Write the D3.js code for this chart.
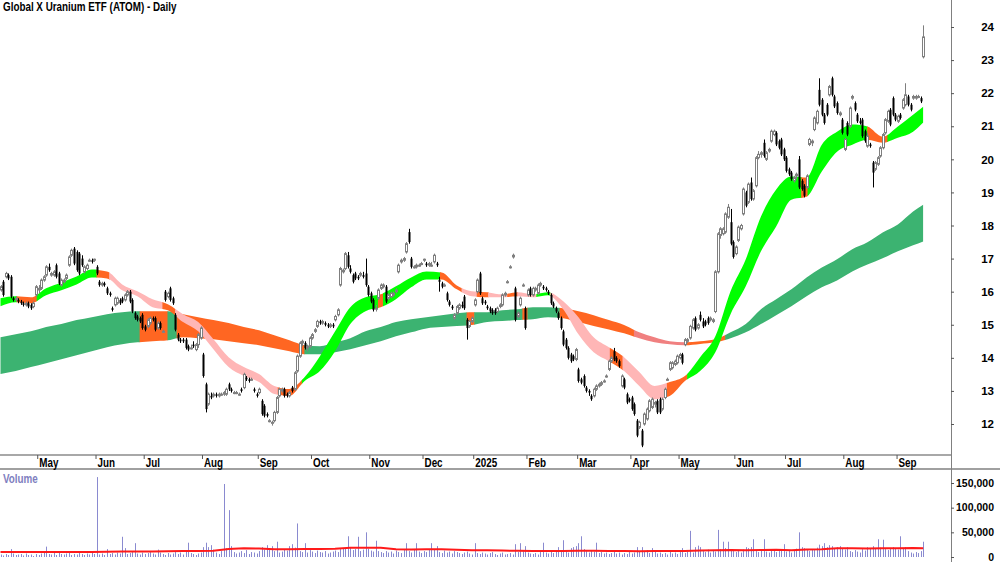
<!DOCTYPE html>
<html>
<head>
<meta charset="utf-8">
<script src="https://cdnjs.cloudflare.com/ajax/libs/d3/7.8.5/d3.min.js"></script>
<style>
  body { margin: 0; background: #fff; }
  svg { display: block; }
  text { font-family: "Liberation Sans", Arial, sans-serif; font-weight: bold; }
</style>
</head>
<body>
<div id="chart"></div>
<script>
// ── Data ──────────────────────────────────────────────────────────────────────
const TITLE = "Global X Uranium ETF (ATOM) - Daily";

// daily bars [open, high, low, close], Apr 2024 .. Sep 2025
const ohlc = [
  [16.05,16.2,16.0,16.15],[16.3,16.35,15.85,15.9],[16.45,16.6,16.4,16.55],[16.5,16.55,16.35,16.4],[16.45,16.5,15.8,15.85],
  [15.8,15.85,15.7,15.75],[15.75,15.85,15.7,15.8],[15.75,15.8,15.65,15.7],[15.7,15.75,15.6,15.65],[15.65,15.7,15.55,15.6],
  [15.6,15.7,15.55,15.65],[15.65,15.7,15.5,15.55],[15.6,15.65,15.45,15.5],[15.55,15.7,15.5,15.65],[15.9,16.2,15.85,16.15],
  [16.05,16.2,15.95,16.1],[16.1,16.4,16.05,16.35],[16.35,16.5,16.3,16.45],[16.5,16.8,16.45,16.75],[16.75,16.85,16.6,16.65],
  [16.5,16.6,16.45,16.55],[16.5,16.65,16.45,16.6],[16.8,16.85,16.4,16.45],[16.55,16.6,16.2,16.25],[16.2,16.4,16.15,16.35],
  [16.3,16.4,16.25,16.35],[16.4,16.55,16.35,16.5],[16.8,17.1,16.75,17.05],[17.1,17.3,17.05,17.25],[17.3,17.35,16.8,16.85],
  [17.2,17.25,16.6,16.65],[17.15,17.2,16.5,16.55],[17.0,17.1,16.75,16.8],[16.6,16.8,16.55,16.75],[16.7,16.85,16.65,16.8],
  [16.95,17.0,16.9,16.95],[16.95,17.0,16.85,16.9],[16.95,17.0,16.9,16.98],[16.75,16.8,16.5,16.55],[16.3,16.35,16.15,16.2],
  [16.2,16.3,16.15,16.25],[16.25,16.3,16.15,16.2],[16.1,16.15,15.9,15.95],[15.95,16.0,15.85,15.9],[15.5,15.55,15.4,15.45],
  [15.6,15.85,15.55,15.8],[15.65,15.85,15.6,15.8],[15.75,15.8,15.6,15.65],[15.8,15.85,15.65,15.7],[15.75,15.95,15.7,15.9],
  [15.9,16.05,15.85,16.0],[16.0,16.05,15.65,15.7],[15.75,15.8,15.35,15.4],[15.35,15.4,15.15,15.2],[15.25,15.3,15.1,15.15],
  [15.2,15.25,15.05,15.1],[15.3,15.35,14.85,14.9],[14.95,15.0,14.8,14.85],[14.95,15.2,14.9,15.15],[15.05,15.25,15.0,15.2],
  [15.2,15.25,15.1,15.15],[15.2,15.25,14.8,14.85],[14.9,15.1,14.85,15.05],[15.05,15.1,14.85,14.9],[14.8,14.85,14.75,14.8],
  [16.0,16.05,15.7,15.75],[15.85,16.0,15.8,15.95],[16.1,16.15,15.7,15.75],[15.8,15.85,15.6,15.65],[15.3,15.35,14.8,14.85],
  [14.7,14.75,14.5,14.55],[14.55,14.6,14.45,14.5],[14.55,14.6,14.45,14.5],[14.55,14.6,14.25,14.3],[14.35,14.4,14.2,14.25],
  [14.3,14.4,14.25,14.3],[14.4,14.5,14.3,14.35],[14.25,14.45,14.2,14.4],[14.4,14.75,14.3,14.7],[14.6,14.95,14.55,14.9],
  [14.1,14.15,13.4,13.45],[13.2,13.25,12.35,12.45],[12.6,12.95,12.55,12.9],[12.85,12.95,12.75,12.8],[12.85,12.95,12.8,12.9],
  [12.9,12.95,12.8,12.85],[12.85,12.95,12.8,12.9],[12.9,12.95,12.85,12.9],[12.9,13.0,12.85,12.95],[12.9,13.1,12.85,13.05],
  [13.2,13.25,13.0,13.05],[13.05,13.1,12.95,13.0],[12.95,13.0,12.9,12.95],[12.95,13.0,12.9,12.95],[12.9,12.95,12.85,12.9],
  [13.05,13.1,12.95,13.0],[13.1,13.55,13.05,13.5],[13.4,13.45,13.3,13.35],[13.35,13.4,13.25,13.3],[13.35,13.4,13.3,13.35],
  [13.05,13.1,12.95,13.0],[12.9,12.95,12.8,12.85],[12.95,13.1,12.9,13.05],[12.7,12.75,12.25,12.3],[12.55,12.6,12.2,12.25],
  [12.3,12.35,12.2,12.25],[12.1,12.15,12.05,12.1],[12.05,12.1,11.95,12.05],[12.1,12.4,12.05,12.35],[12.35,12.85,12.3,12.8],
  [12.85,13.1,12.8,13.05],[13.0,13.1,12.95,13.05],[13.05,13.1,12.8,12.85],[12.9,12.95,12.8,12.85],[12.85,13.0,12.8,12.95],
  [13.1,13.15,12.95,13.0],[13.05,13.6,13.0,13.55],[13.6,14.1,13.55,14.05],[14.05,14.5,14.0,14.45],[14.45,14.55,14.35,14.5],
  [14.45,14.5,14.25,14.3],[14.3,14.4,14.2,14.35],[14.35,14.65,14.3,14.6],[14.6,14.75,14.55,14.7],[14.8,14.9,14.75,14.85],
  [14.95,15.15,14.9,15.1],[15.1,15.15,15.0,15.05],[15.05,15.15,15.0,15.1],[15.05,15.1,14.95,15.0],[15.0,15.05,14.9,14.95],
  [14.95,15.05,14.9,15.0],[15.0,15.05,14.9,14.95],[15.15,15.3,15.1,15.25],[15.3,15.5,15.25,15.45],[16.2,16.75,16.15,16.7],
  [16.6,16.7,16.55,16.65],[16.7,17.2,16.65,17.15],[17.1,17.2,16.7,16.75],[16.7,16.8,16.55,16.6],[16.5,16.55,16.25,16.3],
  [16.55,16.6,16.35,16.4],[16.45,16.5,16.35,16.4],[16.5,16.6,16.45,16.55],[16.5,16.6,16.4,16.45],[16.55,17.0,16.15,16.2],
  [16.15,16.2,15.85,15.9],[15.95,16.0,15.65,15.7],[15.75,15.8,15.4,15.45],[15.5,15.6,15.4,15.5],[15.8,16.1,15.75,16.05],
  [16.1,16.25,16.05,16.2],[16.15,16.25,16.1,16.2],[16.15,16.2,15.65,15.7],[15.8,15.95,15.75,15.9],[15.85,16.0,15.8,15.95],
  [15.9,16.0,15.85,15.95],[16.0,16.1,15.95,16.05],[16.6,16.85,16.55,16.8],[16.9,17.0,16.85,16.95],[16.95,17.05,16.9,17.0],
  [17.2,17.5,17.15,17.45],[17.8,17.9,17.45,17.5],[17.0,17.05,16.7,16.75],[16.75,16.8,16.7,16.75],[16.75,16.85,16.7,16.8],
  [16.8,16.85,16.75,16.8],[16.85,16.9,16.8,16.85],[16.95,17.0,16.9,16.98],[16.85,16.9,16.75,16.8],[16.8,16.9,16.75,16.85],
  [16.8,16.9,16.75,16.8],[16.9,17.15,16.85,17.1],[16.85,16.9,16.75,16.8],[16.35,16.45,16.0,16.3],[16.25,16.3,16.1,16.15],
  [16.2,16.25,16.15,16.2],[15.95,16.0,15.7,15.75],[15.7,15.75,15.55,15.6],[15.55,15.6,15.45,15.5],[15.2,15.35,15.15,15.3],
  [15.35,15.6,15.3,15.55],[15.5,15.65,15.45,15.6],[15.6,15.7,15.5,15.55],[15.85,15.9,15.45,15.5],[15.15,15.2,14.55,14.9],
  [14.95,15.15,14.9,15.1],[15.1,15.25,15.05,15.2],[15.6,15.8,15.55,15.75],[16.0,16.4,15.95,16.35],[16.55,16.6,15.9,15.95],
  [15.8,15.85,15.6,15.65],[15.7,15.75,15.6,15.65],[15.55,15.6,15.45,15.5],[15.5,15.55,15.35,15.4],[15.45,15.5,15.3,15.35],
  [15.45,15.5,15.3,15.35],[15.4,15.55,15.35,15.5],[15.55,15.65,15.5,15.6],[15.6,15.95,15.55,15.9],[15.9,16.0,15.85,15.95],
  [16.3,16.35,16.25,16.3],[16.75,16.8,16.7,16.75],[17.05,17.15,17.0,17.1],[16.1,16.15,15.1,15.15],[15.25,15.4,15.2,15.35],
  [15.6,15.85,15.55,15.8],[16.2,16.25,16.15,16.2],[15.5,15.55,14.85,14.9],[15.9,16.1,15.85,16.05],[16.1,16.15,15.85,15.9],
  [15.9,16.15,15.85,16.1],[16.05,16.15,16.0,16.1],[15.95,16.25,15.9,16.2],[16.2,16.3,16.15,16.25],[16.15,16.2,16.05,16.1],
  [16.1,16.15,16.0,16.05],[16.0,16.05,15.9,15.95],[15.9,15.95,15.6,15.65],[15.65,15.7,15.5,15.55],[15.5,15.55,15.35,15.4],
  [15.35,15.4,15.15,15.2],[15.2,15.25,14.85,14.9],[14.8,14.85,14.35,14.4],[14.55,14.6,14.25,14.3],[14.3,14.35,13.95,14.0],
  [14.1,14.15,13.85,13.9],[14.05,14.1,13.9,13.95],[13.95,14.3,13.9,14.25],[13.65,13.7,13.25,13.3],[13.35,13.4,13.2,13.25],
  [13.45,13.5,13.1,13.15],[13.1,13.15,12.95,13.0],[13.0,13.05,12.85,12.95],[12.85,12.9,12.7,12.75],[12.85,13.1,12.8,13.05],
  [13.05,13.2,13.0,13.15],[13.15,13.25,13.1,13.2],[13.2,13.3,13.15,13.25],[13.3,13.35,13.25,13.3],[13.45,13.5,13.4,13.45],
  [13.65,13.95,13.6,13.9],[13.9,14.05,13.85,14.0],[14.2,14.3,13.9,13.95],[14.0,14.05,13.85,13.9],[13.9,13.95,13.7,13.75],
  [13.15,13.5,13.1,13.45],[13.35,13.4,13.05,13.1],[12.9,12.95,12.6,12.65],[12.75,12.8,12.65,12.7],[12.8,12.85,12.4,12.45],
  [12.6,12.65,12.25,12.3],[12.1,12.15,11.6,11.65],[11.9,12.1,11.85,12.05],[11.8,11.85,11.3,11.35],[12.0,12.35,11.95,12.3],
  [12.15,12.5,12.1,12.45],[12.4,12.75,12.35,12.7],[12.5,12.8,12.45,12.75],[12.6,12.7,12.5,12.65],[12.7,12.75,12.3,12.35],
  [12.75,12.8,12.3,12.35],[12.45,12.8,12.4,12.75],[12.8,13.1,12.75,13.05],[13.35,13.4,13.3,13.35],[13.65,13.9,13.6,13.85],
  [13.7,13.9,13.65,13.85],[13.8,13.95,13.75,13.9],[13.85,14.1,13.8,14.05],[14.0,14.15,13.95,14.1],[14.1,14.15,13.8,13.85],
  [14.4,14.6,14.35,14.55],[14.5,14.6,14.45,14.55],[14.6,15.0,14.55,14.95],[14.9,15.2,14.85,15.15],[15.2,15.25,14.8,14.85],
  [14.9,15.05,14.85,15.0],[15.3,15.4,15.1,15.15],[15.1,15.2,14.9,14.95],[15.1,15.15,14.95,15.0],[15.2,15.25,15.0,15.05],
  [15.15,15.25,15.1,15.2],[15.1,15.2,15.05,15.15],[15.4,16.65,15.35,16.6],[16.6,17.8,16.55,17.75],[17.7,17.95,17.6,17.9],
  [17.75,17.95,17.7,17.9],[17.8,18.4,17.75,18.35],[18.25,18.65,18.2,18.55],[18.1,18.5,17.4,17.45],[17.5,17.55,17.0,17.05],
  [17.15,17.4,17.1,17.35],[17.55,18.0,17.5,17.95],[17.9,18.05,17.85,18.0],[18.35,19.15,18.3,19.1],[19.0,19.05,18.55,18.6],
  [18.7,19.3,18.65,19.25],[19.3,19.45,18.75,18.8],[18.8,19.1,18.75,19.05],[19.2,20.1,19.15,20.05],[20.05,20.25,20.0,20.15],
  [20.15,20.25,20.05,20.2],[20.5,20.6,20.05,20.1],[20.0,20.25,19.95,20.2],[20.25,20.35,20.2,20.3],[20.55,20.9,20.5,20.85],
  [20.75,20.9,20.7,20.85],[20.8,20.85,20.4,20.45],[20.55,20.6,20.3,20.35],[20.6,20.65,20.1,20.15],[20.3,20.35,19.95,20.0],
  [20.05,20.1,19.6,19.65],[19.7,19.75,19.5,19.55],[19.6,19.65,19.35,19.4],[19.35,19.5,19.3,19.45],[19.5,19.6,19.4,19.55],
  [20.0,20.1,19.1,19.15],[19.35,19.4,19.05,19.1],[19.2,19.25,18.85,18.9],[19.15,19.55,19.1,19.5],[20.45,20.65,20.4,20.6],
  [20.5,20.6,20.4,20.55],[20.9,21.3,20.85,21.25],[21.1,21.5,21.05,21.45],[22.1,22.45,21.6,21.65],[21.8,21.85,21.3,21.35],
  [21.35,21.4,21.05,21.1],[21.65,21.7,21.3,21.35],[21.95,22.25,21.9,22.2],[22.45,22.5,21.9,21.95],[21.9,21.95,21.55,21.6],
  [21.7,21.75,21.35,21.4],[21.35,21.45,21.3,21.4],[21.2,21.25,20.75,20.8],[20.3,20.65,20.25,20.6],[21.1,21.15,20.7,20.75],
  [21.0,21.6,20.95,21.55],[21.85,21.95,21.8,21.9],[21.7,21.75,21.45,21.5],[21.35,21.4,21.1,21.15],[21.15,21.25,21.05,21.1],
  [21.2,21.25,20.65,20.7],[20.85,20.9,20.5,20.55],[20.4,20.8,20.35,20.7],[20.45,20.5,20.35,20.4],[19.9,19.95,19.15,19.6],
  [19.7,19.95,19.65,19.9],[19.85,20.1,19.8,20.05],[20.1,20.4,20.05,20.35],[20.35,20.8,20.3,20.75],[20.8,21.25,20.75,21.2],
  [21.15,21.5,21.1,21.45],[21.5,21.55,21.0,21.05],[21.85,21.9,21.3,21.35],[21.35,21.4,21.15,21.2],[21.15,21.35,21.1,21.3],
  [21.35,21.4,21.2,21.25],[21.55,21.85,21.5,21.8],[21.65,22.3,21.6,21.95],[21.9,21.95,21.6,21.65],[21.65,21.7,21.45,21.5],
  [21.85,21.95,21.8,21.9],[21.85,21.95,21.8,21.9],[21.9,21.95,21.85,21.9],[21.85,21.9,21.7,21.75],[23.1,24.05,23.05,23.7]
];

const volume = [
  5000,3000,6000,4000,16000,7000,4000,5000,6000,3000,
  7000,4000,5000,2000,6000,4000,7000,9000,21000,6000,
  5000,8000,4000,10000,6000,5000,7000,9000,4000,6000,
  5000,8000,6000,4000,7000,5000,9000,6000,162000,5000,
  7000,4000,16000,6000,8000,5000,9000,7000,41000,18000,
  6000,8000,10000,28000,7000,5000,9000,6000,8000,10000,
  7000,5000,15000,9000,6000,4000,8000,5000,7000,10000,
  6000,9000,5000,12000,29000,8000,6000,4000,7000,9000,
  20000,29000,20000,24000,15000,9000,6000,12000,148000,18000,
  95000,22000,10000,7000,9000,12000,8000,14000,6000,10000,
  9000,7000,12000,20000,15000,24000,18000,22000,12000,31000,
  9000,11000,16000,13000,22000,26000,19000,68000,12000,10000,
  28000,9000,14000,11000,8000,13000,10000,9000,12000,7000,
  9000,11000,13000,10000,16000,18000,17000,42000,19000,14000,
  16000,41000,12000,15000,50000,17000,13000,11000,33000,12000,
  10000,8000,12000,9000,11000,7000,13000,10000,8000,14000,
  28000,12000,9000,15000,28000,11000,8000,12000,10000,14000,
  28000,16000,22000,10000,8000,13000,9000,11000,7000,12000,
  10000,8000,6000,9000,11000,7000,5000,28000,8000,6000,
  9000,7000,5000,8000,10000,6000,4000,7000,9000,5000,
  6000,8000,5000,26000,10000,28000,12000,22000,9000,7000,
  6000,8000,5000,10000,29000,9000,7000,12000,8000,14000,
  20000,11000,34000,13000,9000,18000,20000,22000,28000,42000,
  16000,12000,9000,14000,11000,29000,8000,10000,7000,9000,
  6000,8000,11000,7000,9000,5000,8000,6000,10000,7000,
  9000,20000,12000,20000,10000,14000,8000,18000,11000,7000,
  9000,6000,8000,5000,14000,7000,9000,6000,10000,18000,
  8000,11000,53000,9000,20000,23000,20000,12000,10000,15000,
  9000,13000,11000,55000,16000,31000,18000,31000,14000,12000,
  10000,13000,9000,15000,20000,18000,20000,36000,12000,10000,
  14000,36000,11000,9000,13000,16000,10000,12000,15000,26000,
  11000,14000,9000,13000,17000,50000,20000,18000,15000,12000,
  16000,14000,19000,25000,22000,28000,20000,24000,22000,18000,
  20000,22000,18000,15000,20000,12000,10000,14000,11000,9000,
  16000,13000,20000,18000,22000,17000,36000,19000,35000,16000,
  14000,18000,20000,17000,15000,42000,18000,20000,12000,9000,
  7000,10000,8000,12000,31000
];

// bar index of the first session of each month
const monthIdx    = [15, 38, 57, 80, 102, 123, 146, 167, 187, 208, 228, 249, 268, 290, 310, 333, 354];
const monthLabels = ["May","Jun","Jul","Aug","Sep","Oct","Nov","Dec","2025","Feb","Mar","Apr","May","Jun","Jul","Aug","Sep"];
const priceTicks  = [12, 13, 14, 15, 16, 17, 18, 19, 20, 21, 22, 23, 24];
const volumeTicks = [0, 50000, 100000, 150000];

// ribbon edges and volume average, read at these bar indices
const sampleIdx = [0,6,12,18,24,30,36,42,48,54,60,66,72,78,84,90,96,102,108,114,120,126,132,138,144,150,
  156,162,168,174,180,186,192,198,204,210,216,222,228,234,240,246,252,258,264,270,276,282,288,294,300,306,
  312,318,324,330,336,342,348,354,360,364];
const shortTop = [15.80,15.86,15.83,16.10,16.28,16.46,16.67,16.61,16.22,16.01,15.77,15.62,15.32,15.08,14.56,14.02,
  13.72,13.51,13.15,13.06,13.42,14.05,14.80,15.53,15.83,15.92,16.16,16.43,16.61,16.58,16.19,16.01,15.98,15.92,
  15.98,15.92,15.98,15.71,15.23,14.62,14.32,14.02,13.57,13.15,13.27,13.45,14.02,14.65,16.01,16.98,18.27,19.09,
  19.48,19.45,20.44,20.83,21.05,20.99,20.68,20.99,21.35,21.59];
const shortBot = [15.56,15.68,15.65,15.89,16.04,16.22,16.43,16.40,16.04,15.86,15.53,15.44,15.08,14.80,14.26,13.72,
  13.45,13.27,12.91,12.85,13.30,13.60,14.20,15.02,15.41,15.53,15.77,16.13,16.37,16.37,16.07,15.86,15.83,15.83,
  15.86,15.83,15.89,15.47,14.71,14.17,13.90,13.60,13.15,12.75,12.85,13.30,13.60,14.17,15.32,16.16,17.22,17.97,
  18.78,18.87,19.63,20.23,20.44,20.59,20.50,20.65,20.83,21.11];
const longTop = [14.62,14.71,14.80,14.93,15.02,15.14,15.23,15.32,15.38,15.41,15.41,15.41,15.32,15.23,15.14,15.05,
  14.93,14.83,14.68,14.53,14.38,14.35,14.47,14.59,14.80,14.93,15.08,15.17,15.23,15.29,15.35,15.38,15.38,15.44,
  15.47,15.53,15.53,15.50,15.41,15.29,15.14,14.99,14.77,14.62,14.50,14.47,14.50,14.56,14.77,15.02,15.47,15.77,
  16.07,16.43,16.73,16.98,17.28,17.49,17.79,18.03,18.42,18.63];
const longBot = [13.51,13.60,13.72,13.84,13.96,14.08,14.20,14.32,14.41,14.47,14.50,14.53,14.62,14.59,14.56,14.50,
  14.44,14.38,14.29,14.20,14.11,14.11,14.17,14.26,14.38,14.50,14.65,14.77,14.89,14.93,14.96,14.99,15.08,15.11,
  15.14,15.17,15.23,15.20,15.08,14.96,14.86,14.74,14.59,14.47,14.41,14.38,14.42,14.47,14.59,14.77,15.02,15.29,
  15.56,15.86,16.13,16.34,16.61,16.82,17.01,17.22,17.40,17.52];
const volumeAvg = [10000,10000,10000,10000,10000,10000,10000,10500,11000,11000,11000,11500,12000,12000,12500,16000,
  17500,17000,15500,15500,16000,16000,16500,18500,19000,18500,15500,15000,15500,15500,14500,13500,13500,13000,
  12500,12000,12000,12000,12500,12500,12000,12000,11500,12000,12000,12000,13000,13500,14000,13500,14000,14500,
  13500,15000,15500,17500,17500,17000,17500,17500,18000,17500];

// ribbon trend state over bar ranges
const shortState = [[0,6.5,"up"],[6.5,14.4,"mixed"],[14.4,38,"up"],[38,43,"mixed"],[43,64,"down"],[64,69,"mixed"],
  [69,109.5,"down"],[109.5,119,"mixed"],[119,149,"up"],[149,151,"mixed"],[151,173.5,"up"],[173.5,182,"mixed"],
  [182,188,"down"],[188,192.5,"mixed"],[192.5,200,"down"],[200,204,"mixed"],[204,211.5,"down"],[211.5,217,"up"],
  [217,240.5,"down"],[240.5,245.5,"mixed"],[245.5,263,"down"],[263,271,"mixed"],[271,316,"up"],[316,318.5,"mixed"],
  [318.5,342,"up"],[342,350,"mixed"],[350,364,"up"]];
const longState = [[0,55,"up"],[55,66,"mixed"],[66,69.6,"up"],[69.6,120,"mixed"],[120,184,"up"],[184,187,"mixed"],
  [187,206,"up"],[206,208,"mixed"],[208,220.7,"up"],[220.7,250,"mixed"],[250,270,"down"],[270,286,"mixed"],[286,364,"up"]];

// ── Styles ────────────────────────────────────────────────────────────────────
const SHORT_COL = { up: "#00ff00", mixed: "#ff6622", down: "#ffb6b6" };
const LONG_COL  = { up: "#3cb371", mixed: "#ff6622", down: "#f08080" };
const UP_COL = "#7f7f7f", DOWN_COL = "#000";
const VOL_COL = "#8a8ad0";

// ── Layout ────────────────────────────────────────────────────────────────────
const W = 1000, H = 562;
const AXIS_X = 951;
const PRICE_BOTTOM = 455, VOL_TOP = 469;

const svg = d3.select("#chart").append("svg").attr("width", W).attr("height", H);
const defs = svg.append("defs");

const x  = d3.scaleLinear().domain([0, 364]).range([0.5, 923.2]);
const yP = d3.scaleLinear().domain([12, 24]).range([424, 27]);
const yV = d3.scaleLinear().domain([0, 150000]).range([557, 483]);

defs.append("clipPath").attr("id", "clipPrice")
  .append("rect").attr("x", 0).attr("y", 0).attr("width", AXIS_X).attr("height", PRICE_BOTTOM - 1);
defs.append("clipPath").attr("id", "clipVol")
  .append("rect").attr("x", 0).attr("y", VOL_TOP + 1).attr("width", AXIS_X).attr("height", H - VOL_TOP);

const plot = svg.append("g").attr("clip-path", "url(#clipPrice)");

// ── Ribbons ───────────────────────────────────────────────────────────────────
function ribbon(top, bot, states, colors, id) {
  const pts = sampleIdx.map((i, k) => ({ i, t: top[k], b: bot[k] }));
  const area = d3.area()
    .x(d => x(d.i)).y0(d => yP(d.b)).y1(d => yP(d.t))
    .curve(d3.curveMonotoneX);
  const d = area(pts);
  const g = plot.append("g");
  states.forEach(([a, b, s], n) => {
    const cid = `${id}${n}`;
    const x0 = n === 0 ? 0 : x(a) - 0.3;
    const x1 = x(b) + 0.3;
    defs.append("clipPath").attr("id", cid)
      .append("rect").attr("x", x0).attr("y", 0).attr("width", x1 - x0).attr("height", PRICE_BOTTOM);
    g.append("path").attr("d", d).attr("fill", colors[s]).attr("clip-path", `url(#${cid})`);
  });
}
ribbon(longTop, longBot, longState, LONG_COL, "lr");
ribbon(shortTop, shortBot, shortState, SHORT_COL, "sr");

// ── Candles ───────────────────────────────────────────────────────────────────
const cg = plot.append("g");
ohlc.forEach(([o, h, l, c], i) => {
  const cx = Math.round(x(i));
  const up = c >= o;
  const yt = yP(Math.max(o, c)), yb = yP(Math.min(o, c));
  cg.append("line")
    .attr("x1", cx + 0.5).attr("x2", cx + 0.5)
    .attr("y1", yP(h)).attr("y2", yP(l))
    .attr("stroke", up ? UP_COL : DOWN_COL).attr("stroke-width", 1);
  if (up) {
    cg.append("rect")
      .attr("x", cx - 0.5).attr("y", yt)
      .attr("width", 2).attr("height", Math.max(yb - yt, 1))
      .attr("fill", "#fff").attr("stroke", UP_COL).attr("stroke-width", 1);
  } else {
    cg.append("rect")
      .attr("x", cx - 0.5).attr("y", yt)
      .attr("width", 2).attr("height", Math.max(yb - yt, 1.2))
      .attr("fill", DOWN_COL);
  }
});

// ── Volume ────────────────────────────────────────────────────────────────────
const vg = svg.append("g").attr("clip-path", "url(#clipVol)");
vg.selectAll("line").data(volume).join("line")
  .attr("x1", (d, i) => Math.round(x(i)) + 0.5).attr("x2", (d, i) => Math.round(x(i)) + 0.5)
  .attr("y1", yV(0)).attr("y2", d => yV(d))
  .attr("stroke", VOL_COL).attr("stroke-width", 1);
vg.append("path")
  .attr("d", d3.line().x(d => x(d[0])).y(d => yV(d[1]))(sampleIdx.map((i, k) => [i, volumeAvg[k]])))
  .attr("fill", "none").attr("stroke", "#ff1a1a").attr("stroke-width", 2);

const volLabel = svg.append("text").attr("x", 3).attr("y", 483).attr("font-size", 12)
  .attr("fill", "#8080c0").text("Volume");

// ── Frame ─────────────────────────────────────────────────────────────────────
svg.append("line").attr("x1", 0).attr("x2", AXIS_X).attr("y1", PRICE_BOTTOM).attr("y2", PRICE_BOTTOM)
  .attr("stroke", "#a8a8a8").attr("stroke-width", 2);
svg.append("line").attr("x1", 0).attr("x2", W).attr("y1", VOL_TOP).attr("y2", VOL_TOP)
  .attr("stroke", "#808080").attr("stroke-width", 1.5);
svg.append("line").attr("x1", AXIS_X + 0.5).attr("x2", AXIS_X + 0.5).attr("y1", 0).attr("y2", H)
  .attr("stroke", "#808080").attr("stroke-width", 1);

// ── Axes ──────────────────────────────────────────────────────────────────────
const xAxis = svg.append("g")
  .attr("transform", `translate(-1.3,${PRICE_BOTTOM})`)
  .call(d3.axisBottom(x).tickValues(monthIdx).tickFormat((d, k) => monthLabels[k]).tickSize(4));
xAxis.select(".domain").remove();
xAxis.selectAll(".tick line").attr("stroke", "#555");
xAxis.selectAll(".tick text")
  .attr("y", 11.5).attr("dy", 0).attr("x", 1.5)
  .attr("text-anchor", "start").attr("font-size", 12).attr("fill", "#000");

const pAxis = svg.append("g")
  .attr("transform", `translate(${AXIS_X},0)`)
  .call(d3.axisRight(yP).tickValues(priceTicks).tickFormat(d3.format("d")).tickSize(3));
pAxis.select(".domain").remove();
pAxis.selectAll(".tick line").attr("stroke", "#555");
pAxis.selectAll(".tick text").attr("x", 43).attr("text-anchor", "end")
  .attr("font-size", 11.5).attr("fill", "#000");

const vAxis = svg.append("g")
  .attr("transform", `translate(${AXIS_X},0)`)
  .call(d3.axisRight(yV).tickValues(volumeTicks).tickFormat(d3.format(",")).tickSize(3));
vAxis.select(".domain").remove();
vAxis.selectAll(".tick line").attr("stroke", "#555");
vAxis.selectAll(".tick text").attr("x", 43).attr("dy", "0.3em").attr("text-anchor", "end")
  .attr("font-size", 10.5).attr("fill", "#000");

const title = svg.append("text").attr("x", 3).attr("y", 11).attr("font-size", 12).attr("fill", "#000").text(TITLE);

// narrow the bold face of the start-anchored texts to match the condensed lettering
[title, volLabel].concat([xAxis.selectAll(".tick text")]).forEach(sel => {
  sel.each(function () {
    const w = this.getComputedTextLength();
    d3.select(this).attr("textLength", w * 0.82).attr("lengthAdjust", "spacingAndGlyphs");
  });
});
</script>
</body>
</html>
